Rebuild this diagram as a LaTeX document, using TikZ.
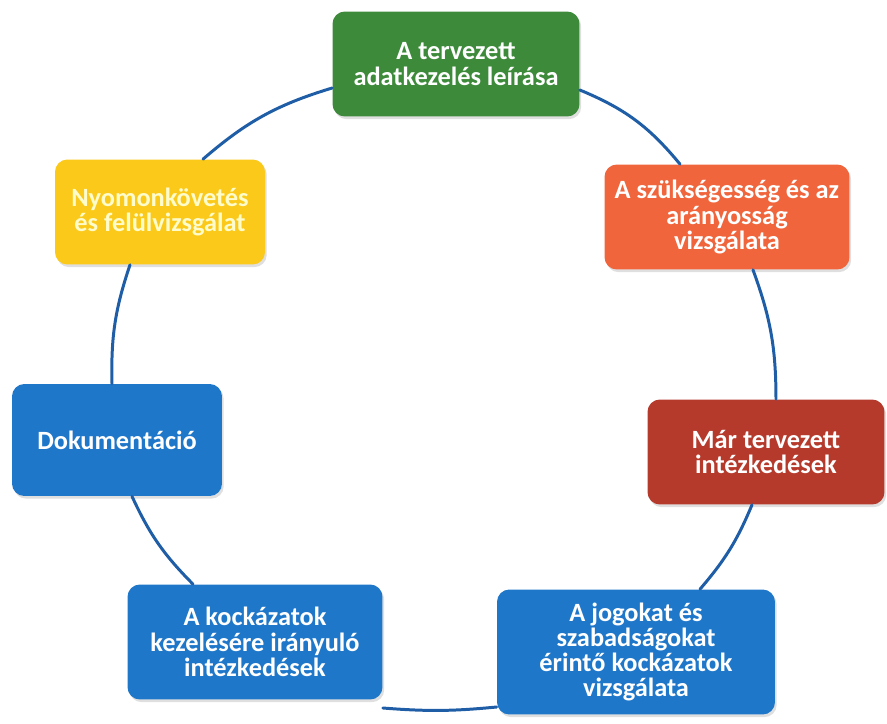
\documentclass[tikz,border=0pt]{standalone}
\usepackage{fontspec}
\setmainfont{Carlito}
\usetikzlibrary{shadows}
\definecolor{cgreen}{HTML}{3D8A3B}
\definecolor{corange}{HTML}{F0653C}
\definecolor{cyellow}{HTML}{FBC91A}
\definecolor{cred}{HTML}{B63A2C}
\definecolor{cblue}{HTML}{1F77CA}
\definecolor{cline}{HTML}{1F5EA6}
\begin{document}
\begin{tikzpicture}[x=0.02cm,y=-0.02cm,
  box/.style={rectangle, rounded corners=7pt, text=white, align=center,
    font=\bfseries\fontsize{15}{14.4}\selectfont, inner sep=2pt,
    drop shadow={opacity=0.25, shadow xshift=1pt, shadow yshift=-1.5pt}},
  ring/.style={draw=cline, line width=1.7pt, line cap=round}]
\useasboundingbox (0,0) rectangle (887,724);
\node[box, fill=cgreen, minimum width=4.94cm, minimum height=2.1cm] (g) at (456,64) {A tervezett\\adatkezelés leírása};
\node[box, fill=corange, minimum width=4.9cm, minimum height=2.1cm] (o) at (727,217) {A szükségesség és az\\arányosság\\vizsgálata};
\node[box, fill=cred, minimum width=4.74cm, minimum height=2.1cm] (r) at (766,452) {Már tervezett\\intézkedések};
\node[box, fill=cblue, minimum width=5.56cm, minimum height=2.5cm] (br) at (636,652) {A jogokat és\\szabadságokat\\érintő kockázatok\\vizsgálata};
\node[box, fill=cblue, minimum width=5.1cm, minimum height=2.3cm] (bl) at (255,642) {A kockázatok\\kezelésére irányuló\\intézkedések};
\node[box, fill=cblue, minimum width=4.2cm, minimum height=2.24cm] (d) at (117,440) {Dokumentáció};
\node[box, fill=cyellow, text=white!80!yellow, minimum width=4.2cm, minimum height=2.1cm] (y) at (160,212) {Nyomonkövetés\\és felülvizsgálat};
\draw[ring] (g.east |- 0,90) to[bend left=14] (o.north -| 680,0);
\draw[ring] (o.south -| 753,0) to[bend left=10] (r.north -| 776,0);
\draw[ring] (r.south -| 752,0) to[bend left=9] (br.north -| 700,0);
\draw[ring] (br.west |- 0,707) to[bend left=5] (bl.east |- 0,708);
\draw[ring] (bl.north -| 193,0) to[bend left=10] (d.south -| 132,0);
\draw[ring] (d.north -| 112,0) to[bend left=10] (y.south -| 130,0);
\draw[ring] (y.north -| 203,0) to[bend left=12] (g.west |- 0,88);
\end{tikzpicture}
\end{document}
